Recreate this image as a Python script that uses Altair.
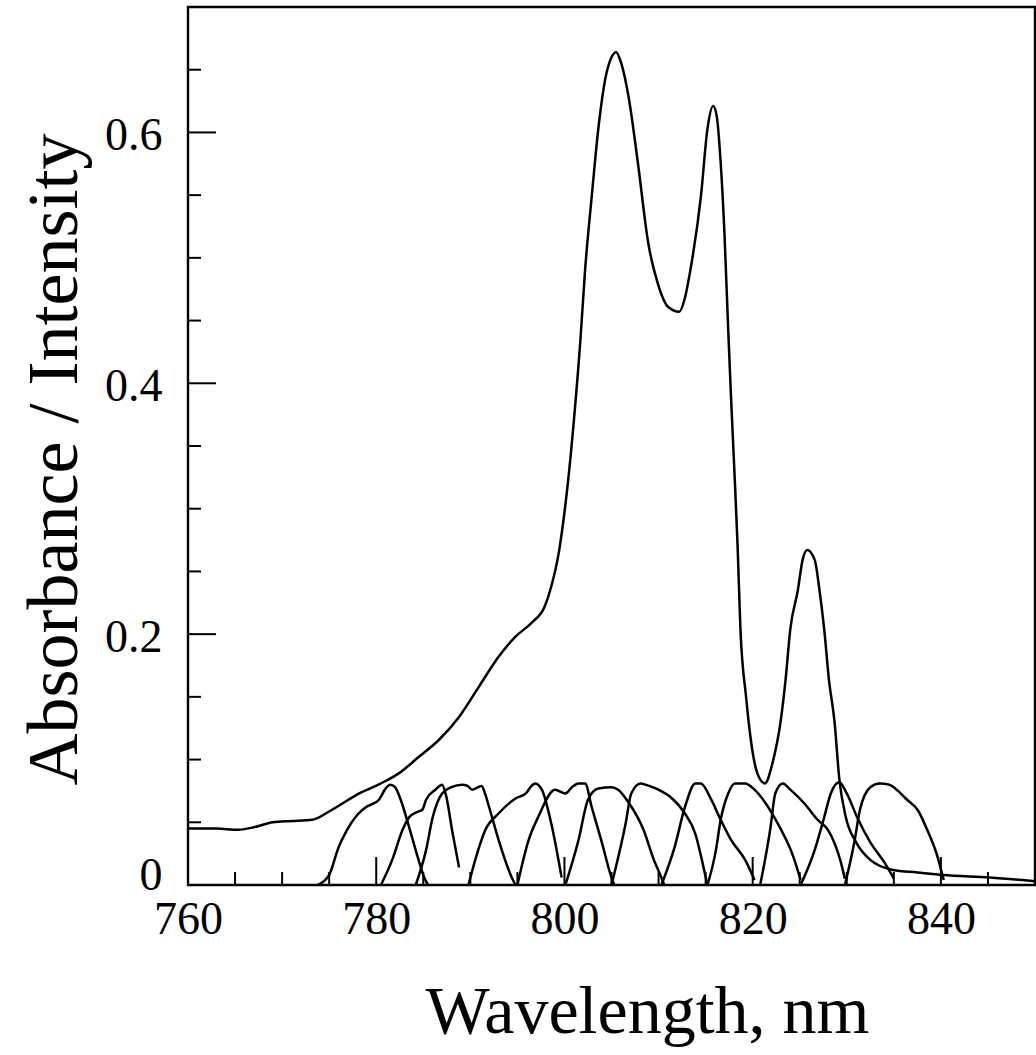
import altair as alt
import pandas as pd

# ---- main absorbance spectrum ----
abs_nm = [760.0, 763.0, 765.3, 767.0, 769.0, 771.0, 773.2, 775.3, 778.2, 780.5,
          782.4, 784.5, 786.7, 788.8, 790.9, 793.0, 794.8, 796.5, 797.9, 798.6,
          799.4, 799.9, 800.4, 801.0, 801.7, 802.2, 802.9, 803.6, 804.4, 805.0,
          805.5, 806.0, 806.8, 807.8, 808.9, 809.9, 811.0, 812.2, 812.8, 813.4,
          814.5, 815.2, 815.8, 816.2, 816.6, 817.0, 817.4, 817.7, 818.1, 818.4,
          818.7, 819.3, 819.8, 820.5, 821.3, 822.1, 823.0, 823.5, 824.0, 824.8,
          825.3, 825.8, 826.6, 827.1, 827.6, 828.1, 828.7, 829.2, 829.9, 831.0,
          832.5, 834.9, 837.5, 840.2, 845.2, 850.0]
abs_val = [0.045, 0.045, 0.044, 0.046, 0.050, 0.051, 0.052, 0.060, 0.073, 0.081,
           0.089, 0.102, 0.116, 0.134, 0.158, 0.182, 0.198, 0.209, 0.222, 0.238,
           0.265, 0.291, 0.323, 0.370, 0.435, 0.491, 0.549, 0.603, 0.645, 0.660,
           0.664, 0.656, 0.629, 0.576, 0.512, 0.480, 0.461, 0.457, 0.468, 0.491,
           0.549, 0.603, 0.621, 0.612, 0.576, 0.520, 0.443, 0.389, 0.323, 0.270,
           0.204, 0.150, 0.116, 0.089, 0.081, 0.097, 0.132, 0.164, 0.204, 0.235,
           0.259, 0.267, 0.259, 0.235, 0.204, 0.164, 0.130, 0.085, 0.054, 0.034,
           0.020, 0.012, 0.010, 0.008, 0.006, 0.003]

# ---- laser / filter intensity bands ----
fA_nm = [773.8, 775.0, 776.0, 776.9, 778.0, 778.9, 780.3, 781.0, 781.5, 782.0, 782.6, 783.5, 784.5, 785.1, 785.5]
fA_val = [0.0, 0.008, 0.030, 0.044, 0.056, 0.062, 0.068, 0.077, 0.080, 0.078, 0.068, 0.046, 0.020, 0.006, 0.0]
fB_nm = [780.5, 781.7, 782.8, 783.5, 784.3, 784.9, 785.3, 786.3, 787.0, 787.4, 788.1, 788.8]
fB_val = [0.0, 0.020, 0.044, 0.054, 0.058, 0.060, 0.068, 0.076, 0.080, 0.072, 0.042, 0.014]
fC_nm = [784.2, 785.3, 786.0, 787.0, 788.0, 789.1, 789.7, 790.2, 791.2, 791.6, 792.0, 793.0, 794.4, 794.8]
fC_val = [0.0, 0.028, 0.054, 0.073, 0.078, 0.080, 0.079, 0.076, 0.079, 0.072, 0.062, 0.036, 0.006, 0.0]
fD_nm = [789.8, 790.6, 791.6, 793.0, 794.8, 795.9, 796.5, 796.9, 797.6, 798.6, 799.7]
fD_val = [0.0, 0.022, 0.044, 0.057, 0.069, 0.073, 0.079, 0.081, 0.076, 0.049, 0.006]
fE_nm = [795.0, 796.2, 797.2, 799.0, 800.1, 800.8, 801.5, 802.2, 802.9, 803.9, 805.0, 805.3]
fE_val = [0.0, 0.036, 0.054, 0.076, 0.073, 0.078, 0.081, 0.081, 0.062, 0.036, 0.006, 0.0]
fF_nm = [800.1, 801.5, 802.5, 803.6, 805.0, 805.7, 806.8, 808.4, 809.5, 810.3, 810.6]
fF_val = [0.0, 0.036, 0.068, 0.077, 0.078, 0.076, 0.066, 0.044, 0.020, 0.006, 0.0]
fG_nm = [805.0, 806.5, 807.1, 808.1, 809.0, 810.0, 811.3, 812.8, 813.9, 814.9, 815.2]
fG_val = [0.0, 0.049, 0.073, 0.081, 0.079, 0.076, 0.070, 0.057, 0.041, 0.010, 0.0]
fH_nm = [810.3, 811.7, 812.8, 813.9, 814.5, 815.6, 816.6, 817.7, 819.2, 820.2]
fH_val = [0.0, 0.030, 0.062, 0.081, 0.081, 0.068, 0.052, 0.036, 0.020, 0.004]
fI_nm = [815.2, 816.1, 816.6, 817.4, 818.1, 819.2, 820.2, 821.3, 822.3, 823.3, 824.2, 825.1]
fI_val = [0.0, 0.028, 0.052, 0.073, 0.081, 0.081, 0.076, 0.066, 0.054, 0.040, 0.025, 0.004]
fJ_nm = [820.8, 821.9, 822.4, 823.2, 824.0, 825.5, 826.9, 828.0, 829.3, 829.8]
fJ_val = [0.0, 0.046, 0.073, 0.081, 0.076, 0.065, 0.052, 0.044, 0.020, 0.005]
fK_nm = [825.1, 826.6, 827.6, 828.3, 829.2, 830.0, 831.1, 832.5, 834.0, 835.0]
fK_val = [0.0, 0.028, 0.054, 0.073, 0.082, 0.073, 0.054, 0.034, 0.018, 0.005]
fL_nm = [829.8, 830.8, 831.4, 832.5, 833.5, 834.5, 835.3, 836.4, 837.6, 838.6, 839.5, 840.3]
fL_val = [0.0, 0.034, 0.060, 0.078, 0.081, 0.080, 0.076, 0.068, 0.059, 0.043, 0.026, 0.004]

# ---- axis ticks ----
x_labels = [760, 780, 800, 820, 840]
x_major = [780, 800, 820, 840]
x_minor = [765, 770, 775, 785, 790, 795, 805, 810, 815, 825, 830, 835, 845]
y_labels = [0, 0.2, 0.4, 0.6]
y_major = [0.2, 0.4, 0.6]
y_minor = [0.05, 0.1, 0.15, 0.25, 0.3, 0.35, 0.45, 0.5, 0.55, 0.65]

series = [("absorbance", abs_nm, abs_val),
          ("A", fA_nm, fA_val), ("B", fB_nm, fB_val), ("C", fC_nm, fC_val),
          ("D", fD_nm, fD_val), ("E", fE_nm, fE_val), ("F", fF_nm, fF_val),
          ("G", fG_nm, fG_val), ("H", fH_nm, fH_val), ("I", fI_nm, fI_val),
          ("J", fJ_nm, fJ_val), ("K", fK_nm, fK_val), ("L", fL_nm, fL_val)]
rows = []
for name, xs, ys in series:
    for x, y in zip(xs, ys):
        rows.append({"series": name, "nm": x, "val": y})
df = pd.DataFrame(rows)

W, H = 847, 878
FONT = "Liberation Serif"
xscale = alt.Scale(domain=[760, 850], nice=False, zero=False)
yscale = alt.Scale(domain=[0, 0.7], nice=False)

lines = alt.Chart(df).mark_line(color="black", strokeWidth=2.5, interpolate="monotone").encode(
    x=alt.X("nm:Q", scale=xscale,
            axis=alt.Axis(values=x_labels, ticks=False, domain=False, grid=False,
                          labelFont=FONT, labelFontSize=46, labelColor="black",
                          labelPadding=12, labelFlush=False,
                          title="Wavelength, nm", titleFont=FONT, titleFontSize=68,
                          titleFontWeight="normal", titleColor="black",
                          titleX=459, titleY=147, titleAlign="center",
                          titleBaseline="alphabetic")),
    y=alt.Y("val:Q", scale=yscale,
            axis=alt.Axis(values=y_labels, ticks=False, domain=False, grid=False,
                          labelExpr="datum.value == 0 ? '0' : format(datum.value, '.1f')",
                          labelFont=FONT, labelFontSize=46, labelColor="black",
                          labelPadding=26, labelFlush=False,
                          labelOffset={"condition": {"test": "datum.value === 0", "value": -10},
                                       "value": 3},
                          title="Absorbance / Intensity", titleFont=FONT, titleFontSize=72,
                          titleFontWeight="normal", titleColor="black",
                          titleX=-112, titleY=452, titleAngle=270, titleAlign="center",
                          titleBaseline="alphabetic")),
    detail="series:N",
)

xmaj_df = pd.DataFrame({"v": x_major})
xmin_df = pd.DataFrame({"v": x_minor})
ymaj_df = pd.DataFrame({"v": y_major})
ymin_df = pd.DataFrame({"v": y_minor})

xt_major = alt.Chart(xmaj_df).mark_rule(color="black", strokeWidth=2).encode(
    x=alt.X("v:Q", scale=xscale), y=alt.value(H), y2=alt.value(H - 28))
xt_minor = alt.Chart(xmin_df).mark_rule(color="black", strokeWidth=2).encode(
    x=alt.X("v:Q", scale=xscale), y=alt.value(H), y2=alt.value(H - 13))
yt_major = alt.Chart(ymaj_df).mark_rule(color="black", strokeWidth=2).encode(
    y=alt.Y("v:Q", scale=yscale), x=alt.value(0), x2=alt.value(28))
yt_minor = alt.Chart(ymin_df).mark_rule(color="black", strokeWidth=2).encode(
    y=alt.Y("v:Q", scale=yscale), x=alt.value(0), x2=alt.value(13))

chart = alt.layer(lines, xt_major, xt_minor, yt_major, yt_minor).properties(
    width=W, height=H,
    autosize=alt.AutoSizeParams(type="none"),
    padding={"left": 188, "top": 7, "right": 1, "bottom": 170},
    background="white",
).configure_view(stroke="black", strokeWidth=2.4)

chart.save("out.html", embed_options={"renderer": "svg", "actions": False})
